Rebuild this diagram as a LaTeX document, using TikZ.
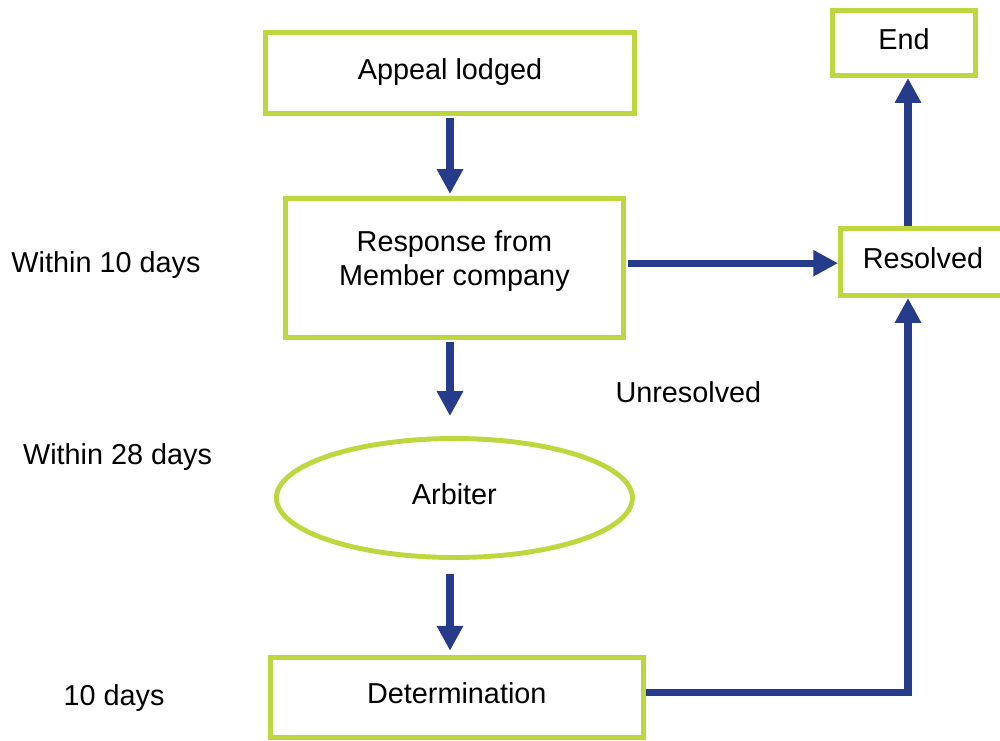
\documentclass[tikz,border=0pt]{standalone}
\usepackage{fontspec}
\setmainfont{Liberation Sans}
\usepackage{tikz}
\usetikzlibrary{shapes.geometric, arrows.meta, positioning}
\definecolor{boxgreen}{HTML}{BFD73F}
\definecolor{arrowblue}{HTML}{263C8A}
\tikzstyle{stepbox} = [rectangle, line width=3.5pt, draw=boxgreen, fill=white, text centered, align=center, text height=0.55cm, text depth=0.25cm, font=\fontsize{20.5}{23.5}\selectfont]
\tikzstyle{arbiter} = [ellipse, line width=3.5pt, draw=boxgreen, fill=white, text centered, text height=0.55cm, text depth=0.25cm, font=\fontsize{20.5}{23.5}\selectfont]
\tikzstyle{note} = [font=\fontsize{20.5}{23.5}\selectfont]
\tikzstyle{arrow} = [line width=5pt, draw=arrowblue, -{Triangle[width=0.62cm, length=0.62cm]}]

\begin{document}
\begin{tikzpicture}[node distance=5cm]
\useasboundingbox (0,0) rectangle (25,-18.5);
\node (appeal) [stepbox, minimum width=9.225cm, minimum height=2.025cm] at (11.25,-1.825) {Appeal lodged};
\node (resp) [stepbox, below of=appeal, xshift=0.11cm, yshift=0.125cm, minimum width=8.45cm, minimum height=3.475cm, text height=1.1cm, text depth=0.25cm] {Response from\\Member company};
\node (arb) [arbiter, below of=resp, yshift=-0.75cm, minimum width=8.9cm, minimum height=2.975cm] {Arbiter};
\node (det) [stepbox, below of=arb, xshift=0.06cm, yshift=0.02cm, minimum width=9.325cm, minimum height=2cm] {Determination};
\node (end) [stepbox, minimum width=3.575cm, minimum height=1.625cm] at (22.6,-1.075) {End};
\node (res) [stepbox, below of=end, xshift=0.475cm, yshift=-0.475cm, minimum width=4.125cm, minimum height=1.675cm] {Resolved};
% time notes
\node (t10) [note] at (2.65,-6.62) {Within 10 days};
\node (t28) [note] at (2.94,-11.42) {Within 28 days};
\node (td) [note] at (2.85,-17.45) {10 days};
\node (unres) [note] at (17.21,-9.8) {Unresolved};
% arrows
\draw [arrow, shorten <=0.05cm, shorten >=0.05cm] (appeal.south) -- (appeal.south |- resp.north);
\draw [arrow, shorten <=0.05cm, shorten >=0.5cm] (resp.south -| appeal.south) -- (appeal.south |- arb.north);
\draw [arrow, shorten <=0.35cm, shorten >=0.1cm] (arb.south -| appeal.south) -- (appeal.south |- det.north);
\draw [arrow, shorten <=0.05cm] ([yshift=0.12cm]resp.east) -- ([yshift=0.12cm]resp.east -| res.west);
\draw [arrow] ([xshift=0.1cm]end.south |- res.north) -- ([xshift=0.1cm]end.south);
\draw [arrow] ([yshift=0.12cm]det.east) -| ([xshift=0.1cm]end.south |- res.south);
\end{tikzpicture}
\end{document}
